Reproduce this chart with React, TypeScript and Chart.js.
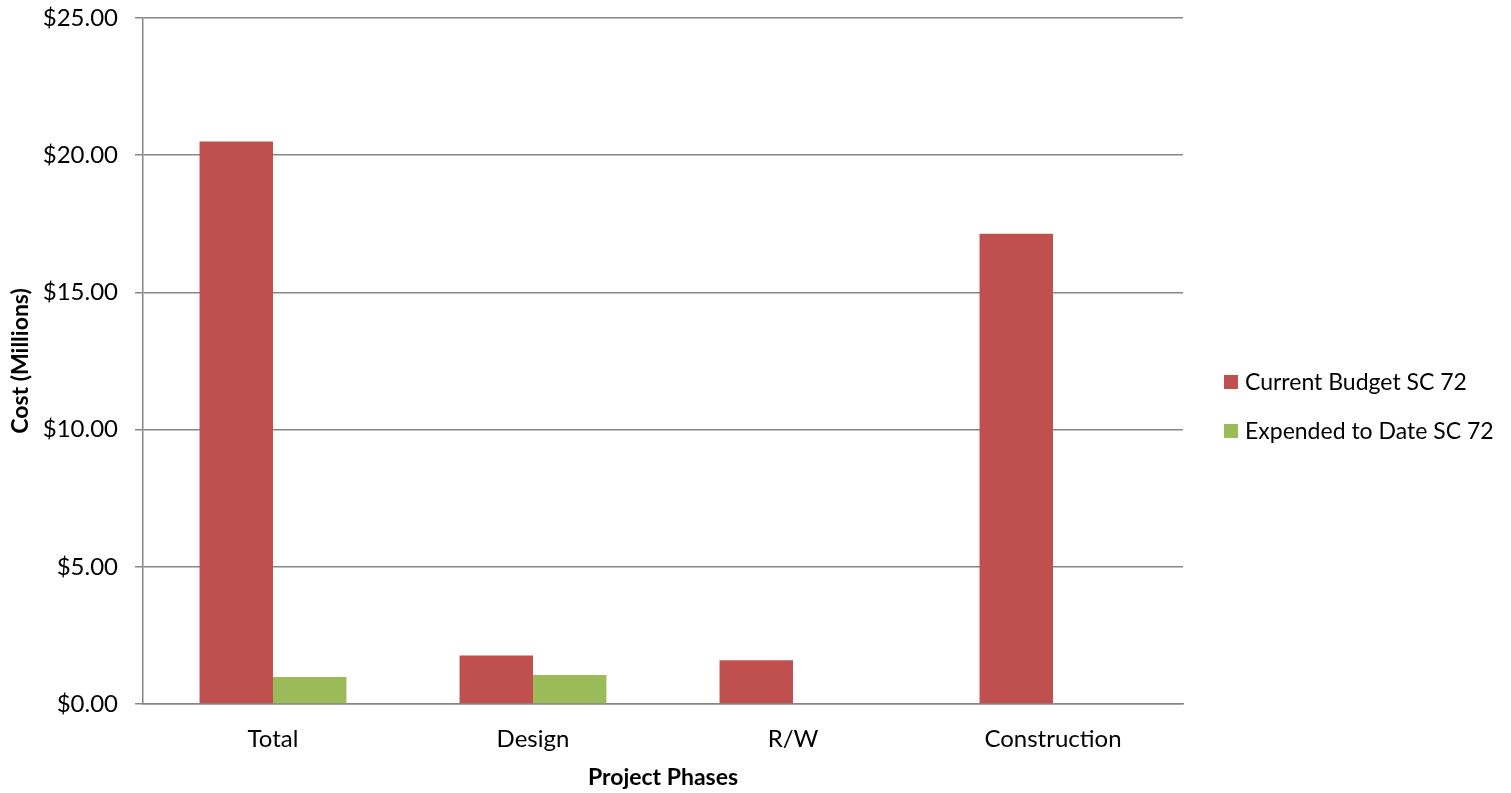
import React, { useEffect, useRef } from "react";
import { Chart, registerables } from "chart.js";

Chart.register(...registerables);

const categories = ["Total", "Design", "R/W", "Construction"];
const currentBudget = [20.5, 1.77, 1.59, 17.14];
const expendedToDate = [0.98, 1.06, 0, 0];
const seriesNames = ["Current Budget SC 72", "Expended to Date SC 72"];
const yTicks = [0, 5, 10, 15, 20, 25];

const FONT = "Lato, 'Open Sans', sans-serif";
const GRID = "#868686";

const legendPlugin = {
  id: "customLegend",
  afterDraw(chart: any) {
    const ctx = chart.ctx;
    ctx.save();
    ctx.font = `23px ${FONT}`;
    ctx.textBaseline = "middle";
    ctx.fillStyle = "#000";
    const x = 1224;
    const y0 = 382;
    chart.data.datasets.forEach((ds: any, i: number) => {
      const y = y0 + i * 49;
      ctx.fillStyle = ds.backgroundColor;
      ctx.fillRect(x, y - 7, 14, 14);
      ctx.fillStyle = "#000";
      ctx.fillText(ds.label, x + 21, y + 1);
    });
    ctx.restore();
  },
};

export default function App() {
  const ref = useRef<HTMLCanvasElement>(null);
  useEffect(() => {
    document.body.style.margin = "0";
    const chart = new Chart(ref.current!, {
      type: "bar",
      data: {
        labels: categories,
        datasets: [
          { label: seriesNames[0], data: currentBudget, backgroundColor: "#C0504D" },
          { label: seriesNames[1], data: expendedToDate, backgroundColor: "#9BBB59" },
        ],
      },
      options: {
        animation: false,
        responsive: false,
        maintainAspectRatio: false,
        layout: { padding: { top: 18, right: 328, left: 0, bottom: 0 } },
        datasets: { bar: { categoryPercentage: 0.565, barPercentage: 1 } } as any,
        plugins: { legend: { display: false }, tooltip: { enabled: false } },
        scales: {
          x: {
            grid: { display: false, drawTicks: false },
            border: { display: true, color: GRID, width: 1.5 },
            ticks: { color: "#000", font: { family: FONT, size: 24 }, padding: 21 },
            title: {
              display: true,
              text: "Project Phases",
              color: "#000",
              font: { family: FONT, size: 23, weight: "bold" },
              padding: { top: 4, bottom: 2 },
            },
            afterFit: (s: any) => {
              s.height = 89;
              s.paddingLeft = 0;
              s.paddingRight = 0;
            },
          },
          y: {
            min: 0,
            max: 25,
            afterBuildTicks: (s: any) => {
              s.ticks = yTicks.map((v) => ({ value: v }));
            },
            grid: { color: GRID, lineWidth: 1.5, tickLength: 8, drawTicks: true },
            border: { display: true, color: GRID, width: 1.5 },
            ticks: {
              color: "#000",
              font: { family: FONT, size: 24 },
              padding: 17,
              callback: (v: any) => "$" + Number(v).toFixed(2),
            },
            title: {
              display: true,
              text: "Cost (Millions)",
              color: "#000",
              font: { family: FONT, size: 23, weight: "bold" },
              padding: { top: 7, bottom: 4 },
            },
            afterFit: (s: any) => {
              s.width = 143;
              s.paddingTop = 0;
              s.paddingBottom = 0;
            },
          },
        },
      },
      plugins: [legendPlugin],
    });
    return () => chart.destroy();
  }, []);
  return <canvas ref={ref} width={1511} height={793} style={{ display: "block" }} />;
}
